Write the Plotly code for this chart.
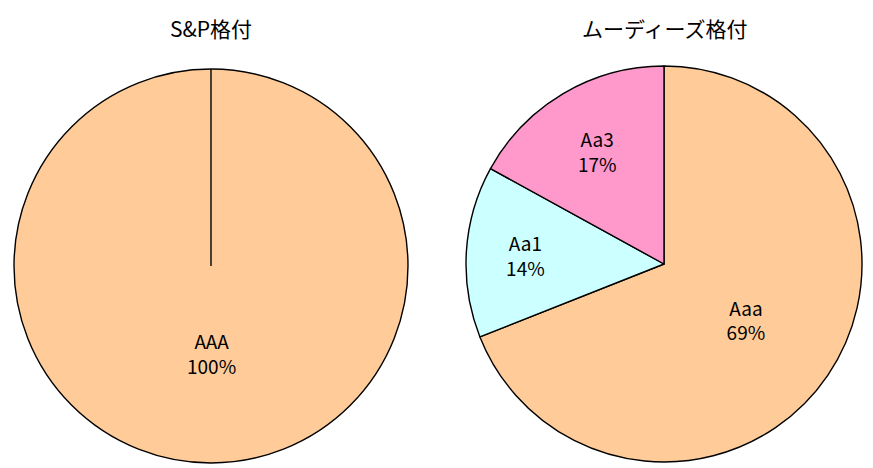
import plotly.graph_objects as go

sp_labels = ["AAA"]
sp_values = [100]
sp_colors = ["#FFCC99"]

moody_labels = ["Aaa", "Aa1", "Aa3"]
moody_values = [69, 14, 17]
moody_colors = ["#FFCC99", "#CCFFFF", "#FF99CC"]

titles = ["S&P格付", "ムーディーズ格付"]

W, H = 873, 468
left_dom = dict(x=[14 / W, 408 / W], y=[(H - 463) / H, (H - 69) / H])
right_dom = dict(x=[466 / W, 862 / W], y=[(H - 462) / H, (H - 66) / H])

font = "Noto Sans CJK JP, sans-serif"
lab_size = 19

fig = go.Figure()
# single full slice: text drawn below centre as annotation (as in reference)
fig.add_trace(go.Pie(
    labels=sp_labels, values=sp_values, domain=left_dom,
    marker=dict(colors=sp_colors, line=dict(color="black", width=1.4)),
    textinfo="none",
    sort=False, direction="clockwise", rotation=0, showlegend=False,
    hoverinfo="label+percent",
))
fig.add_trace(go.Pie(
    labels=moody_labels, values=moody_values, domain=right_dom,
    marker=dict(colors=moody_colors, line=dict(color="black", width=1.4)),
    textinfo="label+percent", textposition="inside",
    insidetextorientation="horizontal",
    textfont=dict(family=font, size=lab_size, color="black"),
    sort=False, direction="clockwise", rotation=0, showlegend=False,
    hoverinfo="label+percent",
))

# radial line at 12 o'clock for the single full slice
cx = sum(left_dom["x"]) / 2
cy = sum(left_dom["y"]) / 2
rad_y = (left_dom["y"][1] - left_dom["y"][0]) / 2
fig.add_shape(type="line", xref="paper", yref="paper",
              x0=cx, x1=cx, y0=cy, y1=left_dom["y"][1],
              line=dict(color="black", width=1.4))

total = sum(sp_values)
sp_text = "<br>".join(f"{l}<br>{v / total * 100:.0f}%" for l, v in zip(sp_labels, sp_values))
fig.add_annotation(text=sp_text, xref="paper", yref="paper",
                   x=cx, y=cy - rad_y * 0.44,
                   showarrow=False, xanchor="center", yanchor="middle",
                   font=dict(family=font, size=lab_size, color="black"))

for dom, t in zip([left_dom, right_dom], titles):
    fig.add_annotation(text=t, xref="paper", yref="paper",
                       x=sum(dom["x"]) / 2, y=(H - 28) / H,
                       showarrow=False, xanchor="center", yanchor="middle",
                       font=dict(family=font, size=21, color="black"))

fig.update_layout(
    width=W, height=H,
    margin=dict(l=0, r=0, t=0, b=0),
    paper_bgcolor="white", plot_bgcolor="white",
)
fig.write_html("out.html", config={"displayModeBar": False},
               post_script="document.body.style.margin='0px';")
